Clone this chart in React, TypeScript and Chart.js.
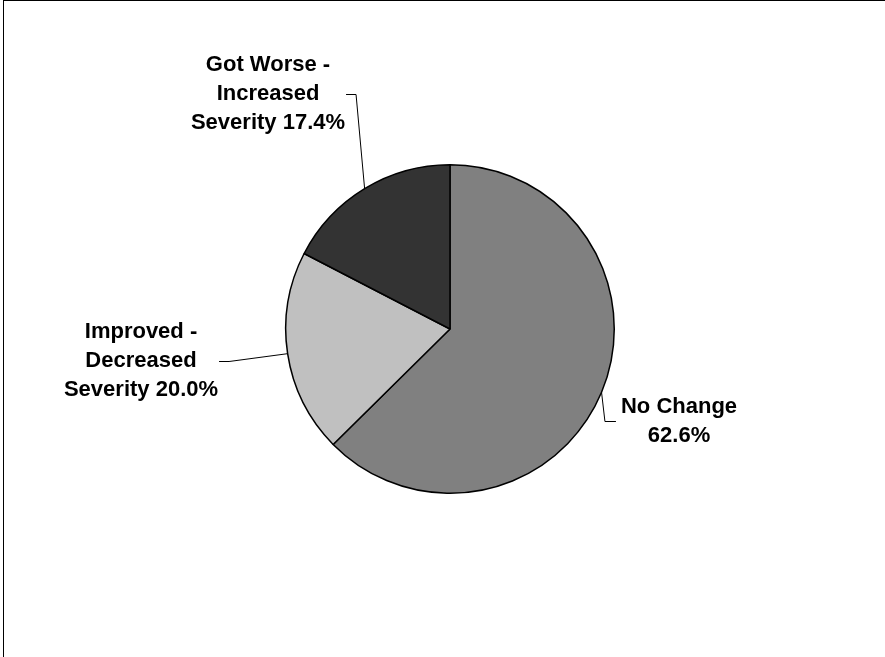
import React, { useEffect, useRef } from "react";
import { Chart, registerables } from "chart.js";

Chart.register(...registerables);

const categories = ["No Change", "Improved - Decreased Severity", "Got Worse - Increased Severity"];
const values = [62.6, 20.0, 17.4];
const labelLines = [
  ["No Change", "62.6%"],
  ["Improved -", "Decreased", "Severity 20.0%"],
  ["Got Worse -", "Increased", "Severity 17.4%"],
];
const colors = ["#808080", "#C0C0C0", "#333333"];

// label block centers relative to pie center, and which side the leader attaches
const labelLayout = [
  { dx: 229, dy: 92, side: "left" },
  { dx: -309, dy: 32, side: "right" },
  { dx: -182, dy: -235, side: "right" },
];

const FONT = "bold 22px 'Liberation Sans', Arial, sans-serif";
const LINE_H = 29;

const labelPlugin = {
  id: "pieLabels",
  beforeDraw(chart: any) {
    const ctx = chart.ctx;
    ctx.save();
    ctx.fillStyle = "#000";
    ctx.fillRect(3, 0, chart.width - 3, 1);
    ctx.fillRect(3, 0, 1, chart.height);
    ctx.restore();
  },
  afterDraw(chart: any) {
    const ctx = chart.ctx;
    const meta = chart.getDatasetMeta(0);
    ctx.save();
    ctx.font = FONT;
    ctx.textAlign = "center";
    ctx.textBaseline = "middle";
    meta.data.forEach((arc: any, i: number) => {
      const { x, y, startAngle, endAngle, outerRadius } = arc.getProps(
        ["x", "y", "startAngle", "endAngle", "outerRadius"],
        true
      );
      const mid = (startAngle + endAngle) / 2;
      const ex = x + Math.cos(mid) * outerRadius;
      const ey = y + Math.sin(mid) * outerRadius;
      const lay = labelLayout[i];
      const cx = x + lay.dx;
      const cy = y + lay.dy;
      const lines = labelLines[i];
      const w = Math.max(...lines.map((l) => ctx.measureText(l).width));
      const n = lines.length;
      lines.forEach((l, k) => {
        ctx.fillStyle = "#000";
        ctx.fillText(l, cx, cy + (k - (n - 1) / 2) * LINE_H);
      });
      // leader line
      const ax = lay.side === "left" ? cx - w / 2 - 5 : cx + w / 2 + 1;
      const bx = lay.side === "left" ? ax - 11 : ax + 10;
      ctx.beginPath();
      ctx.strokeStyle = "#000";
      ctx.lineWidth = 1;
      ctx.moveTo(ax, cy + 0.5);
      ctx.lineTo(bx, cy + 0.5);
      ctx.lineTo(ex, ey);
      ctx.stroke();
    });
    ctx.restore();
  },
};

export default function App() {
  const ref = useRef<HTMLCanvasElement>(null);
  useEffect(() => {
    if (!ref.current) return;
    const chart = new Chart(ref.current, {
      type: "pie",
      data: {
        labels: categories,
        datasets: [
          {
            data: values,
            backgroundColor: colors,
            borderColor: "#000",
            borderWidth: 1.5,
          },
        ],
      },
      options: {
        responsive: false,
        animation: false,
        layout: { padding: { left: 285, right: 270, top: 164, bottom: 163 } },
        plugins: { legend: { display: false }, tooltip: { enabled: false } },
      },
      plugins: [labelPlugin],
    });
    return () => chart.destroy();
  }, []);
  return (
    <div style={{ position: "fixed", left: 0, top: 0, width: 885, height: 657, background: "#fff" }}>
      <canvas ref={ref} width={885} height={657} style={{ display: "block" }} />
    </div>
  );
}
